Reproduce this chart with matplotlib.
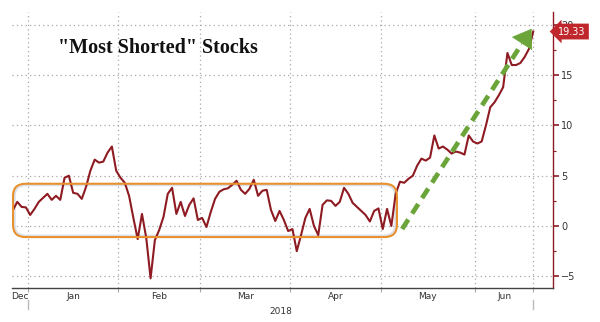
import matplotlib
matplotlib.use('Agg')
import matplotlib.pyplot as plt
from matplotlib.patches import FancyBboxPatch
import numpy as np

# "Most Shorted" basket, daily closes (trading days, late Dec 2017 -> Jun 20 2018)
values = [
    1.6, 2.4, 1.9, 1.85, 1.1, 1.7, 2.4, 2.8, 3.2, 2.6,
    3.0, 2.6, 4.8, 5.0, 3.3, 3.2, 2.7, 3.9, 5.5, 6.6,
    6.3, 6.4, 7.3, 7.9, 5.5, 4.8, 4.3, 3.0, 0.8, -1.3,
    1.2, -1.2, -5.2, -1.4, -0.4, 0.9, 3.2, 3.8, 1.2, 2.4,
    1.0, 2.1, 2.75, 0.6, 0.8, -0.1, 1.4, 2.7, 3.4, 3.65,
    3.75, 4.1, 4.5, 3.6, 3.2, 3.7, 4.6, 3.0, 3.5, 3.6,
    1.6, 0.5, 1.5, 0.6, -0.5, -0.3, -2.5, -0.9, 0.8, 1.7,
    0.0, -0.9, 2.1, 2.55, 2.5, 2.0, 2.4, 3.8, 3.2, 2.3,
    1.9, 1.5, 1.1, 0.45, 1.5, 1.75, -0.3, 1.7, 0.0, 3.2,
    4.4, 4.3, 4.7, 5.0, 6.0, 6.7, 6.5, 6.8, 9.0, 7.7,
    7.9, 7.6, 7.2, 7.4, 7.3, 7.1, 9.0, 8.4, 8.2, 8.4,
    10.0, 11.8, 12.3, 13.0, 13.8, 17.2, 16.0, 16.0, 16.2, 16.8,
    17.6, 19.33,
]

# trading days per month shown on the axis
months = ['Dec', 'Jan', 'Feb', 'Mar', 'Apr', 'May', 'Jun']
month_days = [4, 21, 19, 21, 21, 22, 14]

# range the basket traded in before breaking out
range_lo, range_hi = -1.1, 4.2
range_end = 89.3
# breakout arrow (start / end in trading day and level)
arrow_from = (90.5, -0.3)
arrow_to = (120.6, 19.6)

line_color = '#8E1B22'
grid_color = '#A8A8A8'
green = '#6BA539'

x = np.arange(len(values))
starts = np.concatenate([[0], np.cumsum(month_days)])

fig = plt.figure(figsize=(6.0, 3.22), dpi=100)
ax = fig.add_axes([0.02, 0.1056, 0.9017, 0.8571])

ax.plot(x, values, color=line_color, lw=1.5, zorder=4, solid_joinstyle='round')

ax.set_xlim(-0.23, 125.6)
ax.set_ylim(-6.16, 21.27)

# month boundaries as grid, month names centred in between
bounds = starts[1:-1] - 0.5
ax.set_xticks(list(bounds) + [len(values) - 1])
ax.set_xticklabels([])
centers = []
for i in range(len(months)):
    lo = max(starts[i] - 0.5, -0.23)
    hi = starts[i + 1] - 0.5 if i < len(months) - 1 else len(values) - 1
    centers.append((lo + hi) / 2)
ax.set_xticks(centers, minor=True)
ax.set_xticklabels(months, minor=True)
ax.tick_params(axis='x', which='major', length=3, color=grid_color, direction='out')
ax.tick_params(axis='x', which='minor', length=0, labelsize=6.5, labelcolor='#333333', pad=3)

ax.yaxis.tick_right()
ax.set_yticks([-5, 0, 5, 10, 15, 20])
ax.set_yticks(np.arange(-5, 21, 2.5), minor=True)
ax.tick_params(axis='y', which='major', length=4, width=1.2, color=line_color,
               labelsize=7, labelcolor='#333333', pad=2)
ax.tick_params(axis='y', which='minor', length=2, width=0.8, color=line_color)

ax.grid(True, which='major', color=grid_color, linestyle=(0, (1, 2.5)), lw=0.9)

for side in ['left', 'top']:
    ax.spines[side].set_visible(False)
ax.spines['right'].set_color(line_color)
ax.spines['right'].set_linewidth(1.0)
ax.spines['bottom'].set_color('#444444')
ax.spines['bottom'].set_linewidth(1.0)

# year label and separators below the months
ax.text((bounds[0] + len(values) - 1) / 2, -0.07, '2018', transform=ax.get_xaxis_transform(),
        ha='center', va='top', fontsize=6.5, color='#333333')
for xv in [bounds[0], len(values) - 1]:
    ax.plot([xv, xv], [-0.045, -0.075], transform=ax.get_xaxis_transform(),
            color='#BBBBBB', lw=1.0, clip_on=False)

# last value tag on the right axis, sitting over the top tick label
last = values[-1]
ax.text(1.010, last, f'{last:.2f}', transform=ax.get_yaxis_transform(),
        ha='left', va='center', fontsize=7, color='white', zorder=10,
        bbox=dict(boxstyle='larrow,pad=0.3', fc='#C0272D', ec='none'))

# trading range box
shadow = FancyBboxPatch((0.4, range_lo + 0.15), range_end - 0.8, range_hi - range_lo - 0.3,
                        boxstyle='round,pad=0,rounding_size=2.6', mutation_aspect=0.42,
                        fc='none', ec='#DADFE8', lw=1.4, zorder=3)
ax.add_patch(shadow)
box = FancyBboxPatch((0, range_lo), range_end, range_hi - range_lo,
                     boxstyle='round,pad=0,rounding_size=2.9', mutation_aspect=0.42,
                     fc='none', ec='#E8902C', lw=1.5, zorder=5)
ax.add_patch(box)

# breakout arrow: dashed shaft plus a solid head
frac = 0.92
shaft_end = (arrow_from[0] + frac * (arrow_to[0] - arrow_from[0]),
             arrow_from[1] + frac * (arrow_to[1] - arrow_from[1]))
ax.plot([arrow_from[0], shaft_end[0]], [arrow_from[1], shaft_end[1]],
        color=green, lw=3.4, linestyle=(0, (2.4, 1.5)), solid_capstyle='butt',
        dash_capstyle='butt', zorder=6)
ax.annotate('', xy=arrow_to, xytext=shaft_end,
            arrowprops=dict(arrowstyle='-|>,head_length=0.8,head_width=0.55',
                            color=green, lw=0.5, mutation_scale=15,
                            shrinkA=0, shrinkB=0),
            zorder=6)

ax.text(0.085, 0.87, '"Most Shorted" Stocks', transform=ax.transAxes,
        fontsize=14.5, fontweight='bold', family='Liberation Serif', color='#111111',
        ha='left', va='center')

fig.savefig('out.png', dpi=100, facecolor='white')
